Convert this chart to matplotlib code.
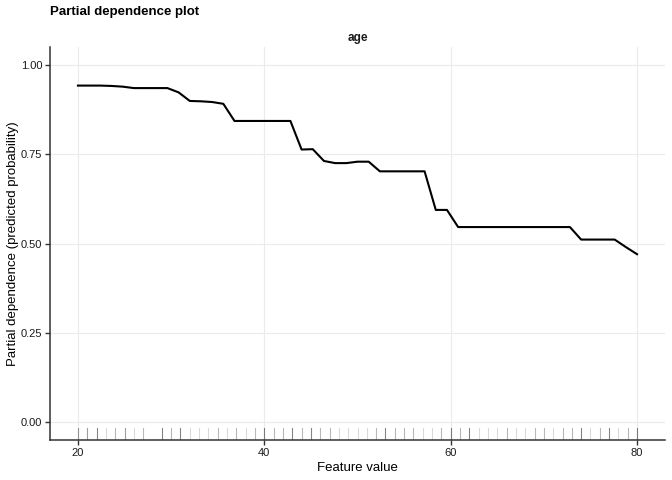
import numpy as np
import matplotlib
matplotlib.use("Agg")
import matplotlib.pyplot as plt

plt.rcParams['font.family'] = ['Liberation Sans', 'DejaVu Sans']

# feature grid (age) and partial dependence values
age_grid = np.linspace(20, 80, 51)
pd_values = [0.942, 0.942, 0.942, 0.941, 0.939, 0.935, 0.935, 0.935, 0.935, 0.923,
             0.899, 0.898, 0.896, 0.891, 0.843, 0.843, 0.843, 0.843, 0.843, 0.843,
             0.763, 0.764, 0.731, 0.725, 0.725, 0.729, 0.729, 0.702, 0.702, 0.702,
             0.702, 0.702, 0.594, 0.594, 0.546, 0.546, 0.546, 0.546, 0.546, 0.546,
             0.546, 0.546, 0.546, 0.546, 0.546, 0.511, 0.511, 0.511, 0.511, 0.490,
             0.470]

# observed ages for the rug, with how many rows share each age
rug_ages = [20, 21, 22, 23, 24, 25, 26, 27, 29, 30, 31, 32, 33, 34, 35, 36, 37, 38, 39,
            40, 41, 42, 43, 44, 45, 46, 47, 48, 49, 50, 51, 52, 53, 54, 55, 56, 57, 58,
            59, 60, 61, 62, 63, 64, 65, 66, 67, 68, 69, 70, 71, 72, 73, 74, 75, 76, 77,
            78, 79, 80]
rug_counts = [3, 3, 4, 1, 2, 3, 1, 2, 4, 2, 4, 1, 1, 1, 2, 1, 2, 1, 2,
              4, 2, 2, 4, 2, 4, 2, 2, 1, 1, 1, 1, 2, 4, 2, 2, 2, 1, 1,
              2, 4, 2, 4, 1, 1, 1, 2, 1, 1, 2, 2, 1, 2, 2, 4, 1, 2, 4,
              1, 2, 4]

fig = plt.figure(figsize=(6.72, 4.8), dpi=100)
ax = fig.add_axes([50/672, 40/480, 615/672, 393/480])

# rug: one semi transparent tick per observation
rug_alpha = 0.15
for a, n in zip(rug_ages, rug_counts):
    al = 1 - (1 - rug_alpha) ** n
    ax.axvline(a, ymin=0, ymax=0.03, color='black', alpha=al, lw=0.8)

ax.plot(age_grid, pd_values, color='black', lw=1.5)

ax.set_xlim(17, 83)
ax.set_ylim(-0.05, 1.05)
ax.set_xticks([20, 40, 60, 80])
ax.set_yticks([0, 0.25, 0.5, 0.75, 1.0])
ax.set_yticklabels(['0.00', '0.25', '0.50', '0.75', '1.00'])
ax.grid(True, color='#ebebeb', lw=0.8)
ax.set_axisbelow(True)

for s in ['top', 'right']:
    ax.spines[s].set_visible(False)
for s in ['left', 'bottom']:
    ax.spines[s].set_color('#333333')
    ax.spines[s].set_linewidth(1.1)
ax.tick_params(colors='#333333', length=3.5, width=1, labelsize=8, labelcolor='#1a1a1a', pad=2)

ax.set_xlabel('Feature value', fontsize=9.5, labelpad=3)
ax.set_ylabel('Partial dependence (predicted probability)', fontsize=9.5, labelpad=1.5)

ax.text(0.5, 1.008, 'age', transform=ax.transAxes, ha='center', va='bottom',
        fontsize=8.5, fontweight='bold', color='#1a1a1a')
fig.text(50/672, 1 - 12.5/480, 'Partial dependence plot', ha='left', va='center',
         fontsize=9.5, fontweight='bold')

fig.savefig('out.png', dpi=100)
